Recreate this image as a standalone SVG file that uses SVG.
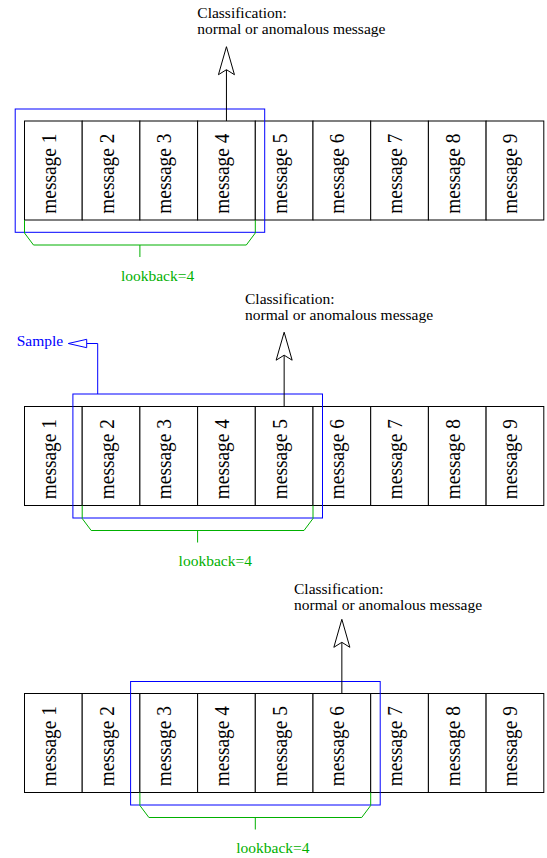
<svg xmlns="http://www.w3.org/2000/svg" width="547" height="858" viewBox="0 0 547 858">
<style>
.cell{fill:#fff;stroke:#000;stroke-width:1}
.msg{font-family:"Liberation Serif","Times New Roman",serif;font-size:20.5px;fill:#000;text-anchor:middle}
.lbl{font-family:"Liberation Serif","Times New Roman",serif;font-size:15.5px;fill:#000}
.win{fill:none;stroke:#0000ff;stroke-width:1}
.brk{fill:none;stroke:#00b000;stroke-width:1}
.lb{font-family:"Liberation Serif","Times New Roman",serif;font-size:15.5px;fill:#00b000}
.arr{fill:none;stroke:#000;stroke-width:1}
.head{fill:#fff;stroke:#000;stroke-width:1;stroke-linejoin:miter}
.samp{fill:none;stroke:#0000ff;stroke-width:1}
.samphead{fill:#fff;stroke:#0000ff;stroke-width:1}
.st{font-family:"Liberation Serif","Times New Roman",serif;font-size:15.5px;fill:#0000ff}
</style>
<rect width="547" height="858" fill="#fff"/>

<!-- Row 1 -->
<g id="row1">
<g id="r1-m1"><rect class="cell" x="24.5" y="121" width="57.7" height="99"/><text class="msg" transform="translate(55.8,173.7) rotate(-90)" textLength="80" lengthAdjust="spacingAndGlyphs">message 1</text></g>
<g id="r1-m2"><rect class="cell" x="82.2" y="121" width="57.7" height="99"/><text class="msg" transform="translate(113.5,173.7) rotate(-90)" textLength="80" lengthAdjust="spacingAndGlyphs">message 2</text></g>
<g id="r1-m3"><rect class="cell" x="139.9" y="121" width="57.7" height="99"/><text class="msg" transform="translate(171.2,173.7) rotate(-90)" textLength="80" lengthAdjust="spacingAndGlyphs">message 3</text></g>
<g id="r1-m4"><rect class="cell" x="197.6" y="121" width="57.7" height="99"/><text class="msg" transform="translate(228.9,173.7) rotate(-90)" textLength="80" lengthAdjust="spacingAndGlyphs">message 4</text></g>
<g id="r1-m5"><rect class="cell" x="255.3" y="121" width="57.7" height="99"/><text class="msg" transform="translate(286.6,173.7) rotate(-90)" textLength="80" lengthAdjust="spacingAndGlyphs">message 5</text></g>
<g id="r1-m6"><rect class="cell" x="313" y="121" width="57.7" height="99"/><text class="msg" transform="translate(344.3,173.7) rotate(-90)" textLength="80" lengthAdjust="spacingAndGlyphs">message 6</text></g>
<g id="r1-m7"><rect class="cell" x="370.7" y="121" width="57.7" height="99"/><text class="msg" transform="translate(402,173.7) rotate(-90)" textLength="80" lengthAdjust="spacingAndGlyphs">message 7</text></g>
<g id="r1-m8"><rect class="cell" x="428.4" y="121" width="57.7" height="99"/><text class="msg" transform="translate(459.7,173.7) rotate(-90)" textLength="80" lengthAdjust="spacingAndGlyphs">message 8</text></g>
<g id="r1-m9"><rect class="cell" x="486.1" y="121" width="57.7" height="99"/><text class="msg" transform="translate(517.4,173.7) rotate(-90)" textLength="80" lengthAdjust="spacingAndGlyphs">message 9</text></g>
<g id="r1-window"><rect class="win" x="15.2" y="109" width="249.5" height="123.3"/></g>
<g id="r1-class"><text class="lbl" x="197.3" y="17.5">Classification:</text><text class="lbl" x="197.3" y="33.5">normal or anomalous message</text></g>
<g id="r1-lookback"><text class="lb" x="120.9" y="281">lookback=4</text></g>
</g>

<!-- Row 2 -->
<g id="row2">
<g id="r2-m1"><rect class="cell" x="24.5" y="406.5" width="57.7" height="99"/><text class="msg" transform="translate(55.8,459.2) rotate(-90)" textLength="80" lengthAdjust="spacingAndGlyphs">message 1</text></g>
<g id="r2-m2"><rect class="cell" x="82.2" y="406.5" width="57.7" height="99"/><text class="msg" transform="translate(113.5,459.2) rotate(-90)" textLength="80" lengthAdjust="spacingAndGlyphs">message 2</text></g>
<g id="r2-m3"><rect class="cell" x="139.9" y="406.5" width="57.7" height="99"/><text class="msg" transform="translate(171.2,459.2) rotate(-90)" textLength="80" lengthAdjust="spacingAndGlyphs">message 3</text></g>
<g id="r2-m4"><rect class="cell" x="197.6" y="406.5" width="57.7" height="99"/><text class="msg" transform="translate(228.9,459.2) rotate(-90)" textLength="80" lengthAdjust="spacingAndGlyphs">message 4</text></g>
<g id="r2-m5"><rect class="cell" x="255.3" y="406.5" width="57.7" height="99"/><text class="msg" transform="translate(286.6,459.2) rotate(-90)" textLength="80" lengthAdjust="spacingAndGlyphs">message 5</text></g>
<g id="r2-m6"><rect class="cell" x="313" y="406.5" width="57.7" height="99"/><text class="msg" transform="translate(344.3,459.2) rotate(-90)" textLength="80" lengthAdjust="spacingAndGlyphs">message 6</text></g>
<g id="r2-m7"><rect class="cell" x="370.7" y="406.5" width="57.7" height="99"/><text class="msg" transform="translate(402,459.2) rotate(-90)" textLength="80" lengthAdjust="spacingAndGlyphs">message 7</text></g>
<g id="r2-m8"><rect class="cell" x="428.4" y="406.5" width="57.7" height="99"/><text class="msg" transform="translate(459.7,459.2) rotate(-90)" textLength="80" lengthAdjust="spacingAndGlyphs">message 8</text></g>
<g id="r2-m9"><rect class="cell" x="486.1" y="406.5" width="57.7" height="99"/><text class="msg" transform="translate(517.4,459.2) rotate(-90)" textLength="80" lengthAdjust="spacingAndGlyphs">message 9</text></g>
<g id="r2-window"><rect class="win" x="72.9" y="394" width="249.6" height="124"/></g>
<g id="r2-class"><text class="lbl" x="245" y="303.5">Classification:</text><text class="lbl" x="245" y="319.5">normal or anomalous message</text></g>
<g id="r2-sample"><text class="st" x="16.7" y="345.5">Sample</text></g>
<g id="r2-lookback"><text class="lb" x="178.6" y="566">lookback=4</text></g>
</g>

<!-- Row 3 -->
<g id="row3">
<g id="r3-m1"><rect class="cell" x="24.5" y="693.5" width="57.7" height="99"/><text class="msg" transform="translate(55.8,746.2) rotate(-90)" textLength="80" lengthAdjust="spacingAndGlyphs">message 1</text></g>
<g id="r3-m2"><rect class="cell" x="82.2" y="693.5" width="57.7" height="99"/><text class="msg" transform="translate(113.5,746.2) rotate(-90)" textLength="80" lengthAdjust="spacingAndGlyphs">message 2</text></g>
<g id="r3-m3"><rect class="cell" x="139.9" y="693.5" width="57.7" height="99"/><text class="msg" transform="translate(171.2,746.2) rotate(-90)" textLength="80" lengthAdjust="spacingAndGlyphs">message 3</text></g>
<g id="r3-m4"><rect class="cell" x="197.6" y="693.5" width="57.7" height="99"/><text class="msg" transform="translate(228.9,746.2) rotate(-90)" textLength="80" lengthAdjust="spacingAndGlyphs">message 4</text></g>
<g id="r3-m5"><rect class="cell" x="255.3" y="693.5" width="57.7" height="99"/><text class="msg" transform="translate(286.6,746.2) rotate(-90)" textLength="80" lengthAdjust="spacingAndGlyphs">message 5</text></g>
<g id="r3-m6"><rect class="cell" x="313" y="693.5" width="57.7" height="99"/><text class="msg" transform="translate(344.3,746.2) rotate(-90)" textLength="80" lengthAdjust="spacingAndGlyphs">message 6</text></g>
<g id="r3-m7"><rect class="cell" x="370.7" y="693.5" width="57.7" height="99"/><text class="msg" transform="translate(402,746.2) rotate(-90)" textLength="80" lengthAdjust="spacingAndGlyphs">message 7</text></g>
<g id="r3-m8"><rect class="cell" x="428.4" y="693.5" width="57.7" height="99"/><text class="msg" transform="translate(459.7,746.2) rotate(-90)" textLength="80" lengthAdjust="spacingAndGlyphs">message 8</text></g>
<g id="r3-m9"><rect class="cell" x="486.1" y="693.5" width="57.7" height="99"/><text class="msg" transform="translate(517.4,746.2) rotate(-90)" textLength="80" lengthAdjust="spacingAndGlyphs">message 9</text></g>
<g id="r3-window"><rect class="win" x="130.6" y="681.5" width="249.6" height="123.5"/></g>
<g id="r3-class"><text class="lbl" x="294" y="593.5">Classification:</text><text class="lbl" x="294" y="609.5">normal or anomalous message</text></g>
<g id="r3-lookback"><text class="lb" x="236.3" y="853">lookback=4</text></g>
</g>

<!-- Connectors -->
<g id="connectors">
<!-- row 1 -->
<path class="arr" d="M226.45,121 V69.7"/>
<polygon class="head" points="226.45,46.7 234.45,74.7 226.45,69.7 218.45,74.7"/>
<path class="brk" d="M24.5,220 V233 L33.5,245 H246.3 L255.3,233 V220"/>
<path class="brk" d="M139.9,245 V257"/>
<!-- row 2 -->
<path class="arr" d="M284.15,406.5 V355.2"/>
<polygon class="head" points="284.15,332.2 292.15,360.2 284.15,355.2 276.15,360.2"/>
<path class="brk" d="M82.2,505.5 V518.5 L91.2,530.5 H304 L313,518.5 V505.5"/>
<path class="brk" d="M197.6,530.5 V542.5"/>
<path class="samp" d="M97.7,394 V343.5 H86.7"/>
<polygon class="samphead" points="86.7,339.3 68.3,343.5 86.7,347.7"/>
<!-- row 3 -->
<path class="arr" d="M341.85,693.5 V642.3"/>
<polygon class="head" points="341.85,619.3 349.85,647.3 341.85,642.3 333.85,647.3"/>
<path class="brk" d="M139.9,792.5 V805.5 L148.9,817.5 H361.7 L370.7,805.5 V792.5"/>
<path class="brk" d="M255.3,817.5 V829.5"/>
</g>
</svg>
